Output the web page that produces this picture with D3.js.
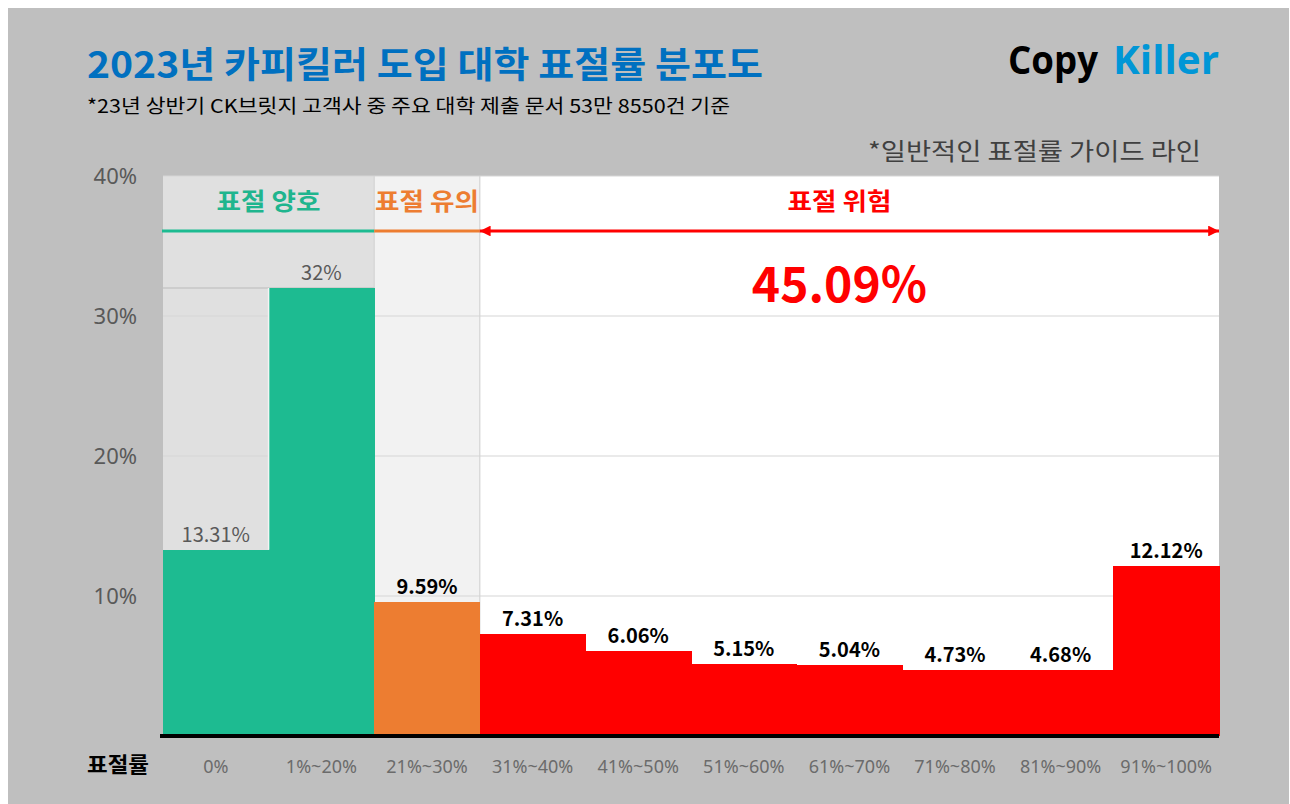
<!DOCTYPE html>
<html>
<head>
<meta charset="utf-8">
<script src="https://cdn.jsdelivr.net/npm/d3@7"></script>
<style>
  body { margin: 0; background: #fff; }
  text { font-family: "Noto Sans CJK KR", "Noto Sans", sans-serif; }
</style>
</head>
<body>
<div id="chart"></div>
<script>
// 표절률 구간별 문서 비율 (%)
const categories = ["0%", "1%~20%", "21%~30%", "31%~40%", "41%~50%", "51%~60%", "61%~70%", "71%~80%", "81%~90%", "91%~100%"];
const values = [13.31, 32, 9.59, 7.31, 6.06, 5.15, 5.04, 4.73, 4.68, 12.12];
// 가이드 라인 구간
const zoneNames = ["표절 양호", "표절 유의", "표절 위험"];
const zoneOf = [0, 0, 1, 2, 2, 2, 2, 2, 2, 2];
const yTicks = [10, 20, 30, 40];

const zoneColors = ["#1dbb91", "#ed7d31", "#ff0000"];
const zoneText = ["#1fb58e", "#ed7d31", "#ff0000"];
const zoneBg = ["#e0e0e0", "#f2f2f2", "#ffffff"];

const W = 1290, H = 804;
const plotLeft = 163, plotRight = 1219, plotTop = 176, plotBottom = 736;

const svg = d3.select("#chart").append("svg")
    .attr("width", W)
    .attr("height", H);

// grey card
svg.append("rect")
    .attr("x", 8).attr("y", 8)
    .attr("width", W - 9).attr("height", H - 8)
    .attr("fill", "#bfbfbf");

let x = d3.scaleBand()
    .domain(categories)
    .range([plotLeft, plotRight])
    .padding(0);

let y = d3.scaleLinear()
    .domain([0, 40])
    .range([plotBottom, plotTop]);

// zones from the category index
let zones = zoneNames.map(function (name, z) {
    let idx = zoneOf.map((d, i) => d === z ? i : -1).filter(i => i >= 0);
    let x0 = x(categories[idx[0]]);
    let x1 = x(categories[idx[idx.length - 1]]) + x.bandwidth();
    return { name: name, z: z, x0: x0, x1: x1, idx: idx };
});

// zone backgrounds
svg.selectAll("rect.zone")
    .data(zones)
    .enter()
    .append("rect")
    .attr("class", "zone")
    .attr("x", d => d.x0)
    .attr("y", y(40))
    .attr("width", d => d.x1 - d.x0)
    .attr("height", y(0) - y(40))
    .attr("fill", d => zoneBg[d.z])
    .attr("shape-rendering", "crispEdges");

// grid lines
svg.selectAll("line.grid")
    .data(yTicks)
    .enter()
    .append("line")
    .attr("class", "grid")
    .attr("x1", plotLeft).attr("x2", plotRight)
    .attr("y1", d => y(d)).attr("y2", d => y(d))
    .attr("stroke", "#d6d6d6")
    .attr("stroke-width", 1.2);

// zone separators
svg.selectAll("line.sep")
    .data(zones.slice(1))
    .enter()
    .append("line")
    .attr("class", "sep")
    .attr("x1", d => d.x0).attr("x2", d => d.x0)
    .attr("y1", y(40)).attr("y2", y(0))
    .attr("stroke", "#d4d4d4")
    .attr("stroke-width", 1.2);

// max line of the first zone
let z0max = d3.max(zones[0].idx, i => values[i]);
svg.append("line")
    .attr("x1", zones[0].x0).attr("x2", zones[0].x1)
    .attr("y1", y(z0max)).attr("y2", y(z0max))
    .attr("stroke", "#cdcdcd")
    .attr("stroke-width", 2);

// bars
svg.selectAll("rect.bar")
    .data(values)
    .enter()
    .append("rect")
    .attr("class", "bar")
    .attr("x", (d, i) => x(categories[i]))
    .attr("y", d => y(d))
    .attr("width", x.bandwidth() + 0.6)
    .attr("height", d => y(0) - y(d))
    .attr("fill", (d, i) => zoneColors[zoneOf[i]])
    .attr("shape-rendering", "crispEdges");

// small white gap between the first two bars
svg.append("line")
    .attr("x1", x(categories[1])).attr("x2", x(categories[1]))
    .attr("y1", y(z0max)).attr("y2", y(values[0]))
    .attr("stroke", "#f4f4f4")
    .attr("stroke-width", 1.5);

// value labels
svg.selectAll("text.val")
    .data(values)
    .enter()
    .append("text")
    .attr("class", "val")
    .attr("x", (d, i) => x(categories[i]) + x.bandwidth() / 2)
    .attr("y", d => y(d) - 8)
    .attr("text-anchor", "middle")
    .attr("font-size", "20px")
    .attr("font-weight", (d, i) => zoneOf[i] === 0 ? 400 : 700)
    .attr("fill", (d, i) => zoneOf[i] === 0 ? "#595959" : "#000")
    .text(d => d + "%");

// zone headers
svg.selectAll("text.zname")
    .data(zones)
    .enter()
    .append("text")
    .attr("class", "zname")
    .attr("x", d => (d.z === 2 ? (d.x0 + d.x1) / 2 - 10 : (d.x0 + d.x1) / 2) - 52)
    .attr("y", 210)
    .attr("textLength", 104)
    .attr("lengthAdjust", "spacingAndGlyphs")
    .attr("font-size", "24px")
    .attr("font-weight", 700)
    .attr("fill", d => zoneText[d.z])
    .text(d => d.name);

// zone underline / arrow
let defs = svg.append("defs");
defs.append("marker")
    .attr("id", "arrow")
    .attr("viewBox", "0 0 10 10")
    .attr("refX", 10).attr("refY", 5)
    .attr("markerWidth", 4.2).attr("markerHeight", 3.6)
    .attr("markerUnits", "strokeWidth")
    .attr("orient", "auto-start-reverse")
    .append("path")
    .attr("d", "M0,0 L10,5 L0,10 Z")
    .attr("fill", "#ff0000");

svg.selectAll("line.zline")
    .data(zones)
    .enter()
    .append("line")
    .attr("class", "zline")
    .attr("x1", d => d.z === 0 ? d.x0 - 1 : d.x0)
    .attr("x2", d => d.x1)
    .attr("y1", 231).attr("y2", 231)
    .attr("stroke", d => zoneColors[d.z])
    .attr("stroke-width", 3)
    .attr("marker-start", d => d.z === 2 ? "url(#arrow)" : null)
    .attr("marker-end", d => d.z === 2 ? "url(#arrow)" : null);

// total of the risk zone
let riskTotal = d3.sum(zones[2].idx, i => values[i]);
svg.append("text")
    .attr("x", (zones[2].x0 + zones[2].x1) / 2 - 10)
    .attr("y", 302)
    .attr("text-anchor", "middle")
    .attr("font-size", "48px")
    .attr("font-weight", 700)
    .attr("fill", "#ff0000")
    .text(riskTotal.toFixed(2) + "%");

// Y axis labels
let yAxis = svg.append("g")
    .attr("transform", "translate(" + 137 + ",0)")
    .call(d3.axisLeft(y).tickValues(yTicks).tickFormat(d => d + "%").tickSize(0).tickPadding(0));
yAxis.select(".domain").remove();
yAxis.selectAll("text")
    .attr("font-size", "22px")
    .attr("fill", "#595959")
    .style("font-family", "'Noto Sans', sans-serif");

// X axis labels
let xAxis = svg.append("g")
    .attr("transform", "translate(0," + plotBottom + ")")
    .call(d3.axisBottom(x).tickSize(0).tickPadding(24));
xAxis.select(".domain").remove();
xAxis.selectAll("text")
    .attr("font-size", "18px")
    .attr("fill", "#6b6b6b")
    .style("font-family", "'Noto Sans', sans-serif");

// baseline
svg.append("line")
    .attr("x1", 160).attr("x2", plotRight)
    .attr("y1", y(0)).attr("y2", y(0))
    .attr("stroke", "#000")
    .attr("stroke-width", 4);

svg.append("text")
    .attr("x", 87).attr("y", 772)
    .attr("textLength", 62)
    .attr("lengthAdjust", "spacingAndGlyphs")
    .attr("font-size", "21px")
    .attr("font-weight", 700)
    .attr("fill", "#000")
    .text("표절률");

// titles
svg.append("text")
    .attr("x", 87).attr("y", 78)
    .attr("textLength", 676)
    .attr("lengthAdjust", "spacingAndGlyphs")
    .attr("font-size", "36px")
    .attr("font-weight", 700)
    .attr("fill", "#0070c0")
    .text("2023년 카피킬러 도입 대학 표절률 분포도");

svg.append("text")
    .attr("x", 87).attr("y", 113)
    .attr("textLength", 643)
    .attr("lengthAdjust", "spacingAndGlyphs")
    .attr("font-size", "19px")
    .attr("fill", "#000")
    .text("*23년 상반기 CK브릿지 고객사 중 주요 대학 제출 문서 53만 8550건 기준");

svg.append("text")
    .attr("x", 868).attr("y", 160)
    .attr("textLength", 333)
    .attr("lengthAdjust", "spacingAndGlyphs")
    .attr("font-size", "24px")
    .attr("fill", "#404040")
    .text("*일반적인 표절률 가이드 라인");

// logo
let logo = svg.append("text")
    .attr("y", 74)
    .attr("font-size", "40px")
    .attr("font-weight", 700)
    .style("font-family", "'Open Sans', 'Noto Sans', sans-serif");
logo.append("tspan")
    .attr("x", 1008)
    .attr("textLength", 90)
    .attr("lengthAdjust", "spacingAndGlyphs")
    .attr("fill", "#000")
    .text("Copy");
logo.append("tspan")
    .attr("x", 1113)
    .attr("textLength", 106)
    .attr("lengthAdjust", "spacingAndGlyphs")
    .attr("fill", "#0096d6")
    .text("Killer");
</script>
</body>
</html>
